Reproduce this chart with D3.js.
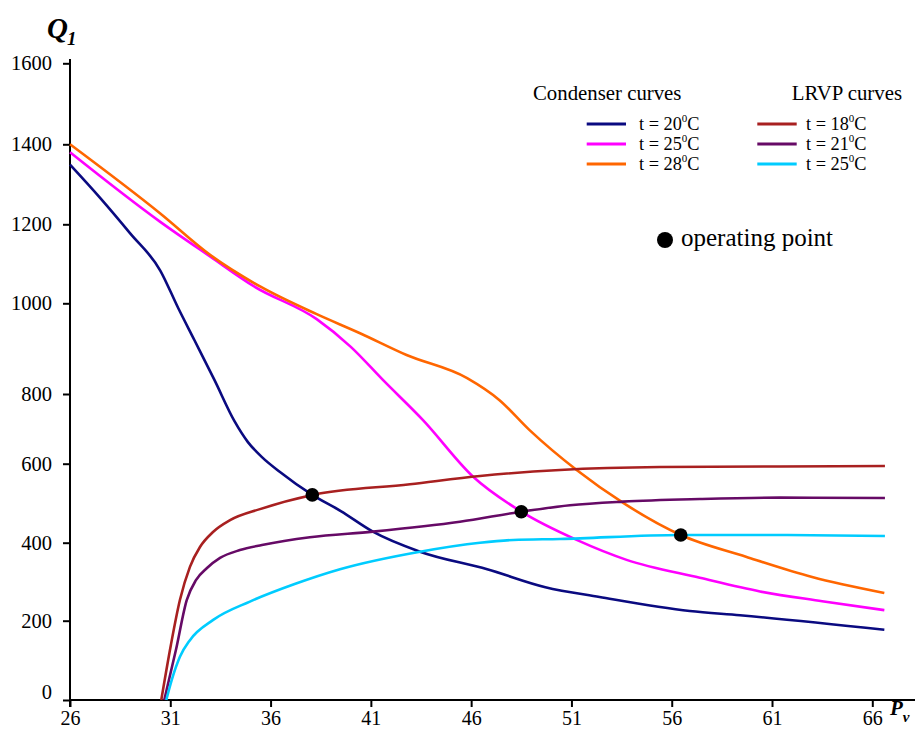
<!DOCTYPE html>
<html><head><meta charset="utf-8">
<script src="https://cdn.jsdelivr.net/npm/d3@7"></script>
<style>body{margin:0;background:#fff}svg{display:block}text{font-family:"Liberation Serif","Times New Roman",serif;fill:#000}</style>
</head><body>
<svg id="c" width="918" height="729"></svg>
<script>
// ---- data ----
const xTicks = [26,31,36,41,46,51,56,61,66];
const yTicks = [0,200,400,600,800,1000,1200,1400,1600];

const condP20 = [26,27.5,29,30.5,31.4,32.2,33.2,34.2,34.87,35.57,36.47,38.08,39.5,41.1,43.45,46.8,49.7,52.4,56.9,59.4,66.6];
const condQ20 = [1349,1266,1177,1083,989,919,831,722,662,619,579,521,480,428,377,332,286,261,225,214,177];
const condP25 = [26,30.5,33,35.2,38.3,40,41.6,43.6,46.1,48.5,51.26,53.75,57.4,60.4,63.5,66.6];
const condQ25 = [1380,1206,1118,1042,965,904,831,725,567,478.5,407,356,310,275,250,227];
const condP28 = [26,30.5,33,35.5,38.3,40.46,42.78,45.8,47.4,48.9,51.26,53.6,56.45,59.7,63,66.6];
const condQ28 = [1400,1227,1122,1042,976,934,886,835,783,697,584,500,419.5,364,312,271];

const lrvpP18 = [30.55,31.03,31.48,31.98,32.48,33.13,33.98,35.47,38.08,42.95,46.44,50.43,55.41,61.39,66.63];
const lrvpQ18 = [0,139,253,338,389,427,457,485,521,548,569,584,591.5,593,594];
const lrvpP21 = [30.7,31.28,31.82,32.28,32.83,33.48,34.47,35.57,37.96,41.1,45.44,48.5,50.93,53.57,57.4,61.39,66.63];
const lrvpQ21 = [0,126,253,304,335,361,381,394,414,428,453,478.5,495,504,510.5,514,513];
const lrvpP25 = [30.8,31.07,31.48,31.98,33.14,34.97,37.2,39.46,43.45,46.44,48.1,50.43,56.45,61.39,66.63];
const lrvpQ25 = [0,50,109,151,202,249,294,332,377,400,407,409.5,419.5,419.5,417];

const opP = [38.08,48.5,56.45];
const opQ = [521,478.5,419.5];

const condNames = ["20","25","28"];
const lrvpNames = ["18","21","25"];
const condColors = ["#0a0a80","#ff00ff","#ff6600"];
const lrvpColors = ["#a82020","#660a66","#00ccff"];

// ---- drawing ----
const svg = d3.select("#c");
const x = d3.scaleLinear().domain([26,66]).range([70,872.3]);
const y = d3.scaleLinear().domain(yTicks).range([700,620.7,542.7,463.7,394,303.3,224.3,144.3,63.3]);

const zip = (P,Q)=>P.map((p,i)=>[p,Q[i]]);
const line = d3.line().x(d=>x(d[0])).y(d=>y(d[1])).curve(d3.curveMonotoneX);

const series = [
  {d:zip(condP20,condQ20), c:condColors[0]},
  {d:zip(condP25,condQ25), c:condColors[1]},
  {d:zip(condP28,condQ28), c:condColors[2]},
  {d:zip(lrvpP18,lrvpQ18), c:lrvpColors[0]},
  {d:zip(lrvpP21,lrvpQ21), c:lrvpColors[1]},
  {d:zip(lrvpP25,lrvpQ25), c:lrvpColors[2]},
];

// axes
const gx = svg.append("g").attr("transform","translate(0,700)")
  .call(d3.axisBottom(x).tickValues(xTicks).tickSize(7).tickSizeOuter(0).tickFormat(d3.format("d")));
gx.select(".domain").remove();
gx.append("line").attr("x1",70).attr("x2",915).attr("y1",0).attr("y2",0).attr("stroke","#000").attr("stroke-width",2);
gx.selectAll(".tick line").attr("stroke","#000").attr("stroke-width",2);
gx.selectAll(".tick text").attr("font-size",20).attr("y",11).attr("dy","0.71em").attr("font-family","Liberation Serif");

const gy = svg.append("g").attr("transform","translate(70,0)")
  .call(d3.axisLeft(y).tickValues(yTicks).tickSize(7).tickSizeOuter(0).tickFormat(d3.format("d")));
gy.select(".domain").remove();
gy.append("line").attr("x1",0).attr("x2",0).attr("y1",59).attr("y2",707).attr("stroke","#000").attr("stroke-width",2);
gy.selectAll(".tick line").attr("stroke","#000").attr("stroke-width",2);
gy.selectAll(".tick text").attr("font-size",20.5).attr("x",-18).attr("font-family","Liberation Serif")
  .attr("dy",d=>d===0?"-0.05em":"0.32em");

// curves
svg.append("g").selectAll("path").data(series).join("path")
  .attr("d",d=>line(d.d)).attr("fill","none").attr("stroke",d=>d.c).attr("stroke-width",2.6);

// operating points
svg.append("g").selectAll("circle").data(opP.map((p,i)=>[p,opQ[i]])).join("circle")
  .attr("cx",d=>x(d[0])).attr("cy",d=>y(d[1])).attr("r",6.8).attr("fill","#000");

// axis titles
const qt = svg.append("text").attr("x",47).attr("y",38).attr("font-size",29).attr("font-weight","bold").attr("font-style","italic");
qt.append("tspan").text("Q");
qt.append("tspan").attr("font-size",19).attr("dy",7).attr("dx",-1).text("1");
const pt = svg.append("text").attr("x",890).attr("y",715).attr("font-size",21).attr("font-weight","bold").attr("font-style","italic");
pt.append("tspan").text("P");
pt.append("tspan").attr("font-size",15).attr("dy",7).text("v");

// legend
svg.append("text").attr("x",533).attr("y",100).attr("font-size",20.8).text("Condenser curves");
svg.append("text").attr("x",902).attr("y",100).attr("font-size",20.8).attr("text-anchor","end").text("LRVP curves");
function legendItem(x1,x2,tx,yy,col,val){
  svg.append("line").attr("x1",x1).attr("x2",x2).attr("y1",yy).attr("y2",yy).attr("stroke",col).attr("stroke-width",2.8);
  const t = svg.append("text").attr("x",tx).attr("y",yy+6).attr("font-size",18.3);
  t.append("tspan").text("t = "+val);
  t.append("tspan").attr("font-size",11).attr("dy",-8).text("0");
  t.append("tspan").attr("dy",8).text("C");
}
condNames.forEach((n,i)=>legendItem(586.7,626,639,124+20*i,condColors[i],n));
lrvpNames.forEach((n,i)=>legendItem(757.3,796.7,806,124+20*i,lrvpColors[i],n));

svg.append("circle").attr("cx",665).attr("cy",240).attr("r",8).attr("fill","#000");
svg.append("text").attr("x",681).attr("y",246).attr("font-size",25).text("operating point");
</script>
</body></html>
